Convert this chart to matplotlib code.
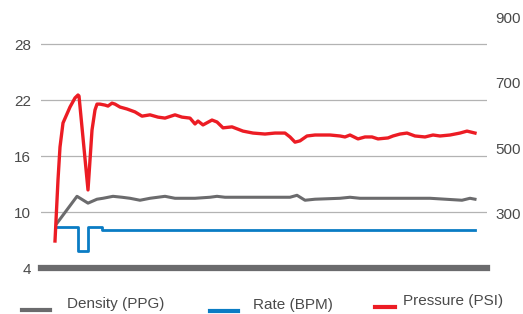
import matplotlib.pyplot as plt
from matplotlib.lines import Line2D

plt.rcParams['font.family'] = ['Liberation Sans', 'DejaVu Sans']

RED = '#ec1c24'
BLUE = '#0a7cc4'
GRAY = '#6b6b6d'
TXT = '#4a4a4a'

# time axis (arbitrary units across the job)
p_time = [14, 17, 19, 22, 29, 34, 37, 38, 47, 51, 54, 56, 59, 64, 67, 71, 74, 79, 86,
          94, 101, 109, 117, 124, 134, 141, 149, 154, 157, 162, 171, 176, 182, 191,
          202, 212, 224, 234, 244, 249, 254, 259, 266, 274, 289, 299, 304, 309, 317,
          324, 331, 337, 347, 352, 359, 366, 374, 384, 392, 399, 409, 419, 426, 434]
pressure = [214, 402, 503, 577, 626, 654, 663, 660, 371, 555, 617, 635, 635, 632, 629,
            638, 635, 626, 620, 611, 598, 602, 595, 592, 602, 595, 592, 574, 583, 571,
            586, 580, 562, 565, 552, 546, 543, 546, 546, 534, 518, 522, 537, 540, 540,
            537, 534, 540, 528, 534, 534, 528, 531, 537, 543, 546, 537, 534, 540, 537,
            540, 546, 552, 546]

d_time = [16, 36, 47, 56, 62, 72, 81, 89, 99, 109, 124, 134, 154, 169, 176, 184, 209,
          249, 256, 264, 274, 299, 309, 319, 339, 359, 389, 421, 429, 434]
density = [8.8, 11.68, 10.95, 11.37, 11.47, 11.68, 11.58, 11.47, 11.26, 11.47, 11.68,
           11.47, 11.47, 11.58, 11.68, 11.58, 11.58, 11.58, 11.79, 11.26, 11.37, 11.47,
           11.58, 11.47, 11.47, 11.47, 11.47, 11.26, 11.47, 11.37]

r_time = [16, 37, 37, 47, 47, 61, 61, 434]
rate = [8.44, 8.44, 5.8, 5.8, 8.44, 8.44, 8.1, 8.1]

left_ticks = [4, 10, 16, 22, 28]
right_ticks = [300, 500, 700, 900]

fig = plt.figure(figsize=(5.23, 3.14), dpi=100)
ax = fig.add_axes([41 / 523, 46 / 314, 446 / 523, 252 / 314])
ax.set_xlim(0, 446)
ax.set_ylim(4, 31)
for v in left_ticks[1:]:
    ax.axhline(v, color='#b3b3b3', lw=0.9, zorder=0)
ax.axhline(4, color=GRAY, lw=4.5, zorder=1, clip_on=False)
for s in ax.spines.values():
    s.set_visible(False)
ax.set_xticks([])
ax.set_yticks(left_ticks)
ax.tick_params(axis='y', length=0, pad=7, labelsize=11, labelcolor=TXT)

ax.plot(d_time, density, color=GRAY, lw=2.2, zorder=3)
ax.plot(r_time, rate, color=BLUE, lw=2.0, zorder=3)

ax2 = ax.twinx()
ax2.set_ylim(131, 906)
for s in ax2.spines.values():
    s.set_visible(False)
ax2.set_yticks(right_ticks)
ax2.tick_params(axis='y', length=0, pad=6, labelsize=11, labelcolor=TXT)
ax2.plot(p_time, pressure, color=RED, lw=2.4, zorder=4)

# legend drawn along the bottom
items = [(22, 50, 67, GRAY, 'Density (PPG)', 310),
         (210, 238, 253, BLUE, 'Rate (BPM)', 311),
         (375, 395, 403, RED, 'Pressure (PSI)', 307)]
for x0, x1, xt, c, lab, yl in items:
    fig.add_artist(Line2D([x0 / 523, x1 / 523], [1 - yl / 314] * 2,
                          color=c, lw=3, transform=fig.transFigure))
    fig.text(xt / 523, 1 - (yl - 6) / 314, lab, color=TXT, fontsize=11, va='center')

fig.savefig('out.png', dpi=100)
